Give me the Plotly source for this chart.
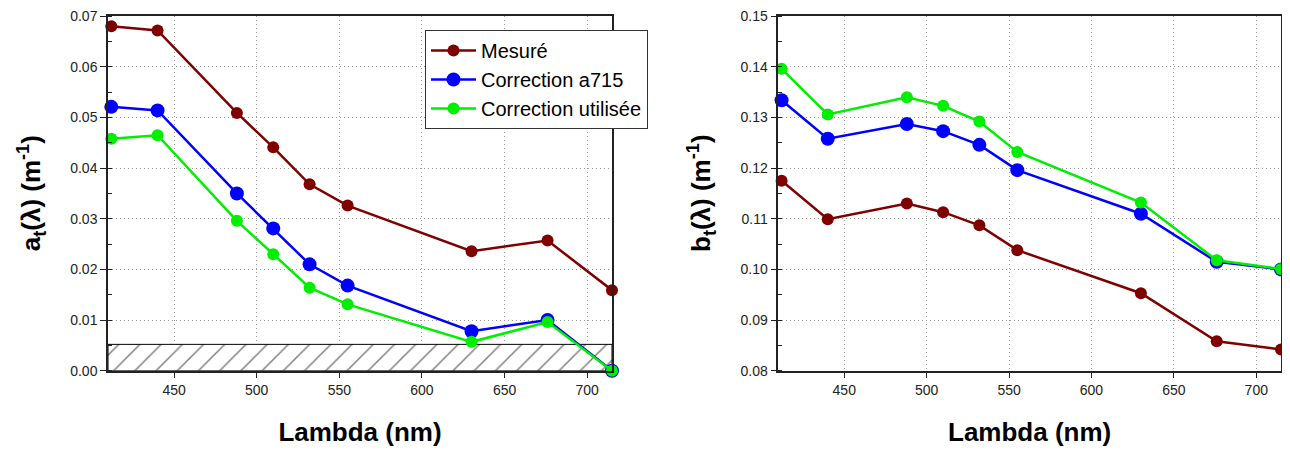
import plotly.graph_objects as go

wavelength = [412, 440, 488, 510, 532, 555, 630, 676, 715]

a_mesure = [0.0680, 0.0672, 0.0509, 0.0441, 0.0368, 0.0326, 0.0236, 0.0257, 0.0159]
a_corr715 = [0.0521, 0.0514, 0.0350, 0.0281, 0.0210, 0.0168, 0.0078, 0.0100, 0.0]
a_corr_util = [0.0458, 0.0465, 0.0296, 0.0230, 0.0164, 0.0131, 0.0057, 0.0096, 0.0]

b_mesure = [0.1175, 0.1099, 0.1130, 0.1113, 0.1087, 0.1038, 0.0953, 0.0858, 0.0842]
b_corr715 = [0.1334, 0.1258, 0.1287, 0.1273, 0.1246, 0.1196, 0.1110, 0.1015, 0.1000]
b_corr_util = [0.1396, 0.1306, 0.1340, 0.1323, 0.1292, 0.1232, 0.1132, 0.1018, 0.1001]

series_names = ["Mesuré", "Correction a715", "Correction utilisée"]
series_colors = ["#800000", "#0000FF", "#00EE00"]
marker_sizes = [12, 14, 12]

x_ticks = [450, 500, 550, 600, 650, 700]
a_ticks = [0.00, 0.01, 0.02, 0.03, 0.04, 0.05, 0.06, 0.07]
b_ticks = [0.08, 0.09, 0.10, 0.11, 0.12, 0.13, 0.14, 0.15]

noise_x = [410, 715]
noise_level = 0.0052

fig = go.Figure()

# hatched noise band (left panel)
fig.add_trace(go.Scatter(
    x=[noise_x[0], noise_x[1], noise_x[1], noise_x[0], noise_x[0]],
    y=[0, 0, noise_level, noise_level, 0],
    fill="toself", mode="lines",
    line=dict(color="black", width=1),
    fillcolor="white",
    fillpattern=dict(shape="/", fgcolor="black", bgcolor="white", size=15, solidity=0.1),
    showlegend=False, hoverinfo="skip", xaxis="x", yaxis="y"))

for name, col, ms, ya, yb in zip(series_names, series_colors, marker_sizes,
                                 [a_mesure, a_corr715, a_corr_util],
                                 [b_mesure, b_corr715, b_corr_util]):
    fig.add_trace(go.Scatter(x=wavelength, y=ya, name=name, mode="lines+markers",
                             line=dict(color=col, width=2.5),
                             marker=dict(color=col, size=ms),
                             cliponaxis=False, xaxis="x", yaxis="y"))
    fig.add_trace(go.Scatter(x=wavelength, y=yb, name=name, mode="lines+markers",
                             line=dict(color=col, width=2.5),
                             marker=dict(color=col, size=ms),
                             cliponaxis=False, showlegend=False, xaxis="x2", yaxis="y2"))

# page has an 8px body margin: figure spans page pixels 8..1290, 8..450
OFF = 8
W, H = 1290 - OFF, 450 - OFF


def px(xp):
    return (xp - OFF) / W


def py(yp):
    return 1 - (yp - OFF) / H


ydom = [py(370.7), py(15.7)]
xdom1 = [px(108), px(612)]
xdom2 = [px(778.3), px(1281)]

tickfont = dict(family="Liberation Sans, Arial", size=14, color="#222")
titlefont = dict(family="Liberation Sans, Arial", size=26, color="black")

xcommon = dict(range=[410, 715], tickvals=x_ticks,
               showline=True, linecolor="#222", linewidth=1.5, mirror=True,
               ticks="outside", ticklen=6, tickcolor="#222",
               showgrid=True, gridcolor="#9a9a9a", griddash="1px,3px", gridwidth=1,
               zeroline=False, tickfont=tickfont, automargin=False,
               title=dict(text="<b>Lambda (nm)</b>", font=titlefont, standoff=26))

ycommon = dict(showline=True, linecolor="#222", linewidth=1.5, mirror=True,
               ticks="outside", ticklen=6, tickcolor="#222",
               minor=dict(ticks="inside", ticklen=4, tickcolor="#222", dtick=0.005, showgrid=False),
               showgrid=True, gridcolor="#9a9a9a", griddash="1px,3px", gridwidth=1,
               zeroline=False, tickfont=tickfont, automargin=False)

fig.update_layout(
    width=W, height=H,
    margin=dict(l=0, r=0, t=0, b=0),
    paper_bgcolor="white", plot_bgcolor="white",
    xaxis=dict(domain=xdom1, anchor="y", **xcommon),
    yaxis=dict(domain=ydom, anchor="x", range=[0, 0.0701],
               tickvals=a_ticks, ticktext=[f"{v:.2f}" for v in a_ticks],
               title=dict(text="<b>a<sub>t</sub>(λ) (m<sup>-1</sup>)</b>", font=titlefont, standoff=22),
               **ycommon),
    xaxis2=dict(domain=xdom2, anchor="y2", **xcommon),
    yaxis2=dict(domain=ydom, anchor="x2", range=[0.08, 0.1501],
                tickvals=b_ticks, ticktext=[f"{v:.2f}" for v in b_ticks],
                title=dict(text="<b>b<sub>t</sub>(λ) (m<sup>-1</sup>)</b>", font=titlefont, standoff=22),
                **ycommon),
    legend=dict(x=px(425), y=py(30), xanchor="left", yanchor="top",
                bordercolor="#333", borderwidth=1, bgcolor="white",
                font=dict(family="Liberation Sans, Arial", size=20, color="black"),
                itemwidth=45, tracegroupgap=0),
    showlegend=True,
)

fig.write_html("out.html")
